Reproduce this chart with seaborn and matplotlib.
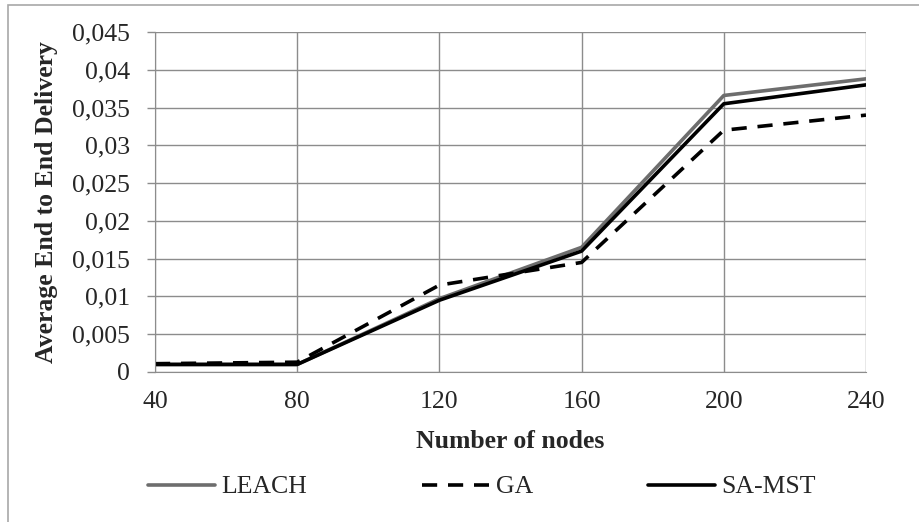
import pandas as pd
import numpy as np
import seaborn as sns
import matplotlib.pyplot as plt
from matplotlib.ticker import FuncFormatter, MultipleLocator
from matplotlib.patches import Rectangle

# data
nodes = [40, 80, 120, 160, 200, 240]
leach = [0.0010, 0.0010, 0.0097, 0.0165, 0.0366, 0.0388]
ga = [0.0011, 0.0013, 0.0115, 0.0145, 0.0320, 0.0340]
sa_mst = [0.0010, 0.0010, 0.0095, 0.0160, 0.0355, 0.0380]
series_names = ["LEACH", "GA", "SA-MST"]

df = pd.DataFrame({
    "nodes": nodes * 3,
    "delay": leach + ga + sa_mst,
    "algo": np.repeat(series_names, len(nodes)),
})

sns.set_style("white")
plt.rcParams['font.family'] = ['Liberation Serif', 'DejaVu Serif']
FS = 18.5

fig = plt.figure(figsize=(9.2, 5.22), dpi=100)
ax = fig.add_axes([155 / 920, 1 - 372 / 522, (866 - 155) / 920, (372 - 32) / 522])

# outer chart border (only left and top edges fall inside the picture)
fig.patches.append(Rectangle((8 / 920, -0.05), 1.0, 1 - 5 / 522 + 0.05, transform=fig.transFigure,
                             fill=False, edgecolor="#a8a8a8", linewidth=1.2))

palette = {"LEACH": "#6d6d6d", "GA": "black", "SA-MST": "black"}
dashes = {"LEACH": "", "GA": (4.2, 3.0), "SA-MST": ""}
sns.lineplot(data=df, x="nodes", y="delay", hue="algo", style="algo",
             palette=palette, dashes=dashes, linewidth=2.6, ax=ax, legend=False)

ax.set_xlim(40, 240)
ax.set_ylim(0, 0.045)
ax.xaxis.set_major_locator(MultipleLocator(40))
ax.yaxis.set_major_locator(MultipleLocator(0.005))
ax.yaxis.set_major_formatter(FuncFormatter(lambda v, p: ("0" if abs(v) < 1e-9 else f"{v:.3f}".rstrip("0")).replace(".", ",")))
ax.grid(True, color="#8c8c8c", linewidth=1)
ax.set_axisbelow(True)
for side in ["top", "right"]:
    ax.spines[side].set_visible(False)
for side in ["left", "bottom"]:
    ax.spines[side].set_color("#8c8c8c")
ax.tick_params(axis="y", length=6, width=1, color="#8c8c8c", labelsize=FS, pad=12, left=True)
ax.tick_params(axis="x", length=0, labelsize=FS, pad=14)

ax.set_xlabel("Number of nodes", fontsize=FS, fontweight="bold", labelpad=12)
ax.set_ylabel("Average End to End Delivery", fontsize=FS, fontweight="bold", labelpad=10)

handles = [plt.Line2D([], [], color=palette[n], linewidth=2.6,
                      linestyle=(0, dashes[n]) if dashes[n] else "-") for n in series_names]
fig.legend(handles, series_names, loc="center", bbox_to_anchor=(482 / 920, 1 - 487 / 522), ncol=3,
           frameon=False, fontsize=FS, handlelength=2.6, columnspacing=4.5, handletextpad=0.25)

plt.savefig("out.png", dpi=100)
